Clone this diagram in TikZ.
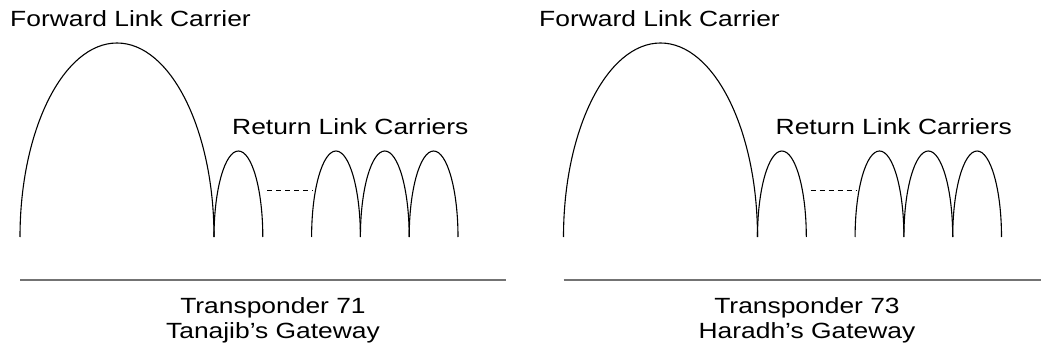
\documentclass[tikz,border=0pt]{standalone}
\usepackage{fontspec}
\setmainfont[FakeStretch=1.2]{Liberation Sans}
\usetikzlibrary{positioning}

\tikzset{
  carrier/.style={line width=1.1pt},
  band/.style={line width=1.4pt, black!55},
  gap/.style={line width=0.8pt, dash pattern=on 5pt off 4pt},
  lbl/.style={inner sep=0pt, font=\fontsize{22}{25}\selectfont},
}

\begin{document}
\begin{tikzpicture}[x=1pt,y=1pt]
  \useasboundingbox (0,0) rectangle (1041,351);

  % one transponder per pass: shift, label x, centre x, number, gateway, band end
  \foreach \dx/\tx/\cx/\num/\gw/\ex in {0/10/273/71/Tanajib's/506, 543.5/539/807/73/Haradh's/1041} {
    % forward link carrier
    \draw[carrier] (\dx+20,114) arc[start angle=180, end angle=0, x radius=97, y radius=194];
    % return link carriers
    \foreach \a in {214,311.6,360.4,409.2}
      \draw[carrier] (\dx+\a,114) arc[start angle=180, end angle=0, x radius=24.4, y radius=86];
    \coordinate (gapl\num) at (\dx+267,161);
    \coordinate (gapr\num) at (\dx+313,161);
    \draw[gap] (gapl\num) -- (gapr\num);

    \coordinate (bandl\num) at (\dx+20,71);
    \coordinate (bandr\num) at (\ex,71);
    \draw[band] (bandl\num) -- (bandr\num);

    \node[lbl, anchor=base west] (fwd\num) at (\tx,324) {Forward Link Carrier};
    \node[lbl, anchor=base west] (ret\num) at (\dx+232,216) {Return Link Carriers};
    \node[lbl, anchor=base] (tp\num) at (\cx,38) {Transponder \num};
    \node[lbl, anchor=base] (gw\num) at (\cx,13) {\gw\ Gateway};
  }
\end{tikzpicture}
\end{document}
